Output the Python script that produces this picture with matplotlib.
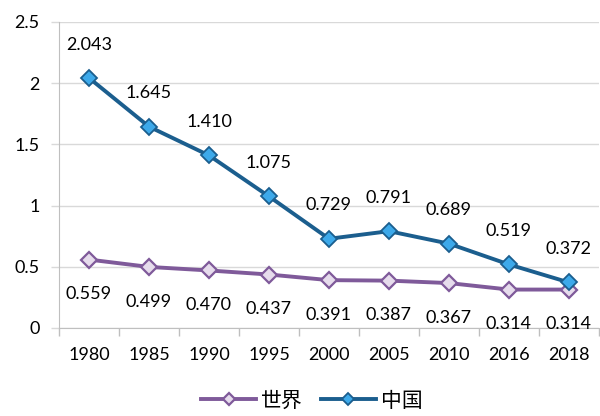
import numpy as np
import matplotlib.pyplot as plt
from matplotlib.ticker import FixedLocator

plt.rcParams['font.family'] = ['Lato', 'Noto Sans CJK SC', 'DejaVu Sans']

# Data
years = ['1980', '1985', '1990', '1995', '2000', '2005', '2010', '2016', '2018']
world = [0.559, 0.499, 0.470, 0.437, 0.391, 0.387, 0.367, 0.314, 0.314]
china = [2.043, 1.645, 1.410, 1.075, 0.729, 0.791, 0.689, 0.519, 0.372]

x = np.arange(len(years))

fig = plt.figure(figsize=(6.0, 4.16), dpi=100)
ax = fig.add_axes([59 / 600, 1 - 328 / 416, 540 / 600, 306 / 416])

ax.plot(x, world, color='#7F5A9A', lw=2.8, marker='D', ms=8,
        mfc='#E6DCEC', mec='#7F5A9A', mew=1.6, label='世界', zorder=3)
ax.plot(x, china, color='#1B5E8E', lw=2.8, marker='D', ms=8,
        mfc='#3DA9EA', mec='#1B5E8E', mew=1.3, label='中国', zorder=4)

# value labels: China above, world below
for xi, v in zip(x, china):
    ax.annotate(f'{v:.3f}', (xi, v), xytext=(0, 24), textcoords='offset points',
                ha='center', va='center', fontsize=13)
for xi, v in zip(x, world):
    ax.annotate(f'{v:.3f}', (xi, v), xytext=(0, -25), textcoords='offset points',
                ha='center', va='center', fontsize=13)

ax.set_xlim(-0.5, len(years) - 0.5)
ax.set_ylim(0, 2.5)
ax.set_yticks([0, 0.5, 1, 1.5, 2, 2.5])
ax.set_yticklabels(['0', '0.5', '1', '1.5', '2', '2.5'], fontsize=13)
ax.yaxis.grid(True, color='#D9D9D9', lw=1)
ax.set_axisbelow(True)

# category labels between boundary ticks
ax.set_xticks(x)
ax.set_xticklabels(years, fontsize=13)
ax.tick_params(axis='x', which='major', length=0, pad=14)
ax.xaxis.set_minor_locator(FixedLocator(np.arange(-0.5, len(years), 1.0)))
ax.tick_params(axis='x', which='minor', length=6, color='#BFBFBF', width=1)
ax.tick_params(axis='y', length=6, color='#D9D9D9', width=1, pad=8)

for side in ['top', 'right']:
    ax.spines[side].set_visible(False)
for side in ['left', 'bottom']:
    ax.spines[side].set_color('#BFBFBF')

fig.legend(loc='lower center', bbox_to_anchor=(0.52, -0.012), ncol=2, frameon=False,
           fontsize=15, handlelength=2.6, columnspacing=0.9, handletextpad=0.25,
           markerscale=0.8, borderaxespad=0.1)

fig.savefig('out.png', dpi=100)
